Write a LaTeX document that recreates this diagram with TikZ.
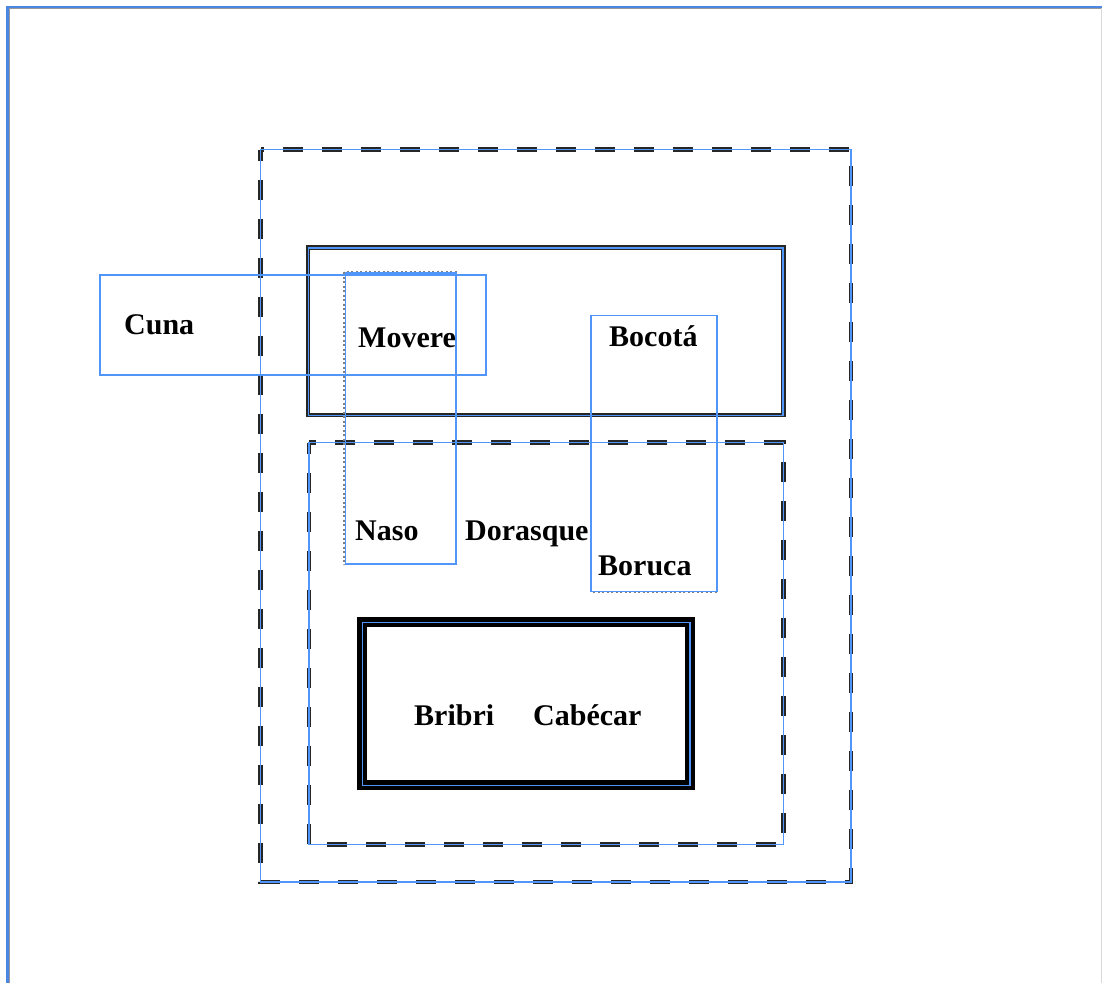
\documentclass[tikz,border=0pt]{standalone}
\usepackage{fontspec}
\setmainfont{Liberation Serif}
\definecolor{lblue}{RGB}{80,150,250}
\definecolor{fblue}{RGB}{75,135,225}
\begin{document}
\begin{tikzpicture}[x=1pt,y=-1pt,
  lab/.style={font=\bfseries\fontsize{30}{36}\selectfont, inner sep=0pt, anchor=base west},
  dashbox/.style={draw=black!85, line width=4.2pt, dash pattern=on 20pt off 19pt, dash phase=9pt},
  blueline/.style={draw=lblue, line width=1.3pt},
  solidbox/.style={draw=black!85, line width=4.5pt},
  heavybox/.style={draw=black, line width=10pt},
  dotbox/.style={draw=gray, line width=1.8pt, dash pattern=on 2pt off 2.5pt},
]
\useasboundingbox (0,0) rectangle (1102,982);
% outer frame
\draw[gray!80, line width=1.2pt] (9.8,990) -- (9.8,8.8) -- (1110,8.8);
\draw[fblue, line width=2.4pt] (7.5,990) -- (7.5,7) -- (1110,7);
\draw[gray!30, line width=1pt] (1101,8) -- (1101,990);
% big dashed box
\draw[dashbox] (260.5,149.5) rectangle (851,882);
\draw[blueline] (260.5,149.5) rectangle (851,882);
% top solid box
\draw[solidbox] (308,247.5) rectangle (783.5,415);
\draw[blueline] (308.5,248) rectangle (783,415.5);
% middle dashed box
\draw[dashbox] (309,442.5) rectangle (783.5,844.5);
\draw[blueline] (309,442.5) rectangle (783.5,844.5);
% inner heavy box
\draw[heavybox] (361.5,621.5) rectangle (690,785);
\draw[draw=lblue, line width=1.6pt] (362.5,622.5) rectangle (690,785.5);
% Cuna box
\draw[blueline] (100,275) rectangle (486,375);
% Movere / Naso dotted box
\draw[dotbox] (344,272) rectangle (456.5,564.5);
\draw[blueline] (345.5,273) rectangle (456,564);
% Bocota / Boruca dotted box
\draw[dotbox] (590.5,315.5) rectangle (716.5,592);
\draw[blueline] (591,315.5) rectangle (717,591.5);
% labels
\node[lab] (cuna) at (124,334) {Cuna};
\node[lab] (movere) at (358,347) {Movere};
\node[lab] (bocota) at (609,346) {Bocotá};
\node[lab] (naso) at (355,540) {Naso};
\node[lab] (dorasque) at (465,540) {Dorasque};
\node[lab] (boruca) at (598,575) {Boruca};
\node[lab] (bribri) at (414,725) {Bribri};
\node[lab] (cabecar) at (533,725) {Cabécar};
\end{tikzpicture}
\end{document}
